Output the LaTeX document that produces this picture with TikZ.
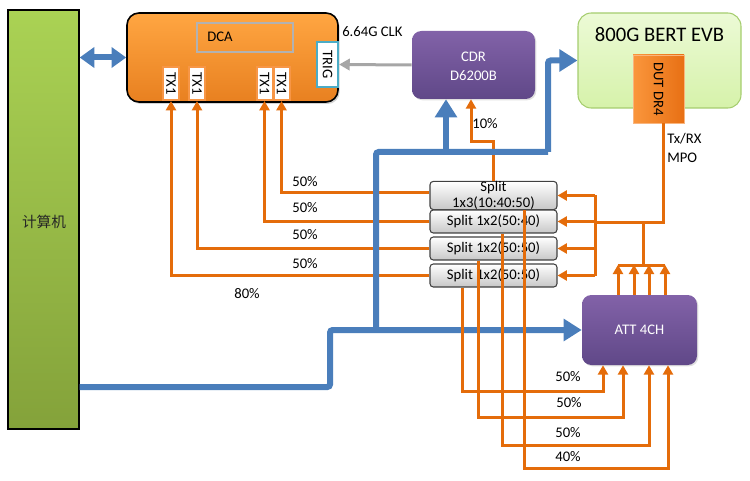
\documentclass[tikz,border=0pt]{standalone}
\usepackage{graphicx}
\usepackage{fontspec}
\setmainfont{Carlito}
\newfontfamily\cjk{Noto Sans CJK SC}
\usetikzlibrary{arrows.meta,fit,shadows,calc}
\definecolor{oline}{RGB}{228,108,10}
\definecolor{bline}{RGB}{74,126,187}
\definecolor{gline}{RGB}{166,166,166}
\definecolor{cgT}{RGB}{170,210,84}
\definecolor{cgB}{RGB}{132,162,58}
\definecolor{dcaT}{RGB}{255,166,66}
\definecolor{dcaB}{RGB}{232,128,32}
\definecolor{txor}{RGB}{247,150,70}
\definecolor{trigc}{RGB}{75,172,198}
\definecolor{puT}{RGB}{130,98,168}
\definecolor{puB}{RGB}{96,72,136}
\definecolor{beT}{RGB}{236,250,214}
\definecolor{beB}{RGB}{214,242,170}
\definecolor{beD}{RGB}{165,205,110}
\definecolor{duT}{RGB}{250,150,60}
\definecolor{duB}{RGB}{232,112,20}
\begin{document}
\begin{tikzpicture}[x=0.75pt,y=-0.75pt,
  font=\fontsize{11}{13}\selectfont,
  compbox/.style={draw=black, line width=1pt, top color=cgT, bottom color=cgB, inner sep=0pt,
     drop shadow={opacity=0.3, shadow xshift=1pt, shadow yshift=-1pt}},
  dcabox/.style={draw=black, line width=1.2pt, rounded corners=9pt, top color=dcaT, bottom color=dcaB, inner sep=0pt,
     drop shadow={opacity=0.35, shadow xshift=1.2pt, shadow yshift=-1.5pt}},
  inbox/.style={draw=gray!60, line width=0.8pt, inner sep=0pt},
  txbox/.style={draw=txor, line width=1.5pt, fill=white, minimum width=12pt, minimum height=24.75pt, inner sep=0pt},
  trigbox/.style={draw=trigc, line width=1.6pt, fill=white, minimum width=15.75pt, minimum height=33.75pt, inner sep=0pt},
  purplebox/.style={rounded corners=7pt, top color=puT, bottom color=puB, text=white, inner sep=0pt, align=center,
     drop shadow={opacity=0.25, shadow xshift=1pt, shadow yshift=-1pt}},
  bertbox/.style={draw=beD, line width=0.8pt, rounded corners=10pt, top color=beT, bottom color=beB, inner sep=0pt},
  dutbox/.style={draw=txor!70, line width=0.6pt, left color=duT, right color=duB, minimum width=38.25pt, minimum height=51pt, inner sep=0pt},
  splitbox/.style={draw=black!75, line width=0.8pt, rounded corners=2.5pt, top color=white, bottom color=black!22,
     minimum width=95.25pt, minimum height=17.25pt, inner sep=0pt, align=center},
  oln/.style={draw=oline, line width=2.25pt},
  oarrow/.style={draw=oline, line width=2.25pt, -{Triangle[length=7pt,width=7.5pt]}},
  bln/.style={draw=bline, line width=4.5pt, rounded corners=2pt},
  barrow/.style={draw=bline, line width=4.5pt, rounded corners=2pt, -{Triangle[length=13.5pt,width=16pt]}},
  bdouble/.style={draw=bline, line width=4.5pt, {Triangle[length=11pt,width=15pt]}-{Triangle[length=11pt,width=15pt]}},
  garrow/.style={draw=gline, line width=2.25pt, -{Triangle[length=8pt,width=8.5pt]}},
  pct/.style={inner sep=0pt, text=black}
]
\useasboundingbox (0,0) rectangle (750,481);

% ---------- boxes ----------
\node[compbox, fit={(8,10) (79,429)}] (comp) {};
\node[font=\cjk\fontsize{11}{13}\selectfont, text=black!85] (comptxt) at (44,222) {计算机};

\node[dcabox, fit={(127,13) (338,102)}] (dca) {};
\node[inbox, fit={(197,23) (293,52)}] (dcain) {};
\node[inner sep=0pt] (dcatxt) at (220,37) {DCA};

\node[txbox] (tx1) at (171,83.5) {\rotatebox[origin=c]{-90}{TX1}};
\node[txbox] (tx2) at (197,83.5) {\rotatebox[origin=c]{-90}{TX1}};
\node[txbox] (tx3) at (264.5,83.5) {\rotatebox[origin=c]{-90}{TX1}};
\node[txbox] (tx4) at (281.5,83.5) {\rotatebox[origin=c]{-90}{TX1}};
\node[trigbox] (trig) at (327.5,64.5) {\rotatebox[origin=c]{-90}{TRIG}};

\node[anchor=west, inner sep=0pt] (clk) at (342,32) {6.64G CLK};

\node[purplebox, fit={(412,31) (535,99)}] (cdr) {};
\node[text=white, align=center, inner sep=0pt, font=\fontsize{11}{14.25}\selectfont] (cdrtxt) at (473.5,66) {CDR\\D6200B};

\node[bertbox, fit={(578,13) (741,108)}] (bert) {};
\node[inner sep=0pt, font=\fontsize{15.5}{18}\selectfont] (berttxt) at (659.5,35) {800G BERT EVB};
\node[dutbox] (dut) at (658.5,89) {\rotatebox[origin=c]{-90}{DUT DR4}};
\node[anchor=west, align=left, inner sep=0pt, font=\fontsize{11}{14.25}\selectfont] (mpo) at (667,147.5) {Tx/RX\\MPO};

\node[splitbox, font=\fontsize{11}{12}\selectfont] (split1) at (493.5,195.5) {Split\\1x3(10:40:50)};
\node[splitbox] (split2) at (493.5,221.5) {Split 1x2(50:40)};
\node[splitbox] (split3) at (493.5,248.5) {Split 1x2(50:50)};
\node[splitbox] (split4) at (493.5,275.5) {Split 1x2(50:50)};

\node[purplebox, fit={(582,295) (697,365)}] (att) {};
\node[text=white, inner sep=0pt] (atttxt) at (639.5,330) {ATT 4CH};

% ---------- orange: splitters to DCA ----------
\draw[oarrow] ([yshift=1.9pt]split1.west) -| (tx4.south);
\draw[oarrow] (split2.west) -| (tx3.south);
\draw[oarrow] (split3.west) -| (tx2.south);
\draw[oarrow] (split4.west) -| (tx1.south);
\node[pct] (p1) at (305,182) {50\%};
\node[pct] (p2) at (305,208) {50\%};
\node[pct] (p3) at (305,235) {50\%};
\node[pct] (p4) at (305,264) {50\%};
\node[pct] (p80) at (247,294) {80\%};

% 10% to CDR
\coordinate (k10) at (471,142);
\draw[oarrow] (split1.north) |- (k10) -- (k10 |- cdr.south);
\node[pct] (p10) at (485,124) {10\%};

% ---------- orange: DUT / ATT to splitters ----------
\coordinate (busT) at (595,195.5);
\coordinate (busB) at (595,275.5);
\draw[oln] (busT) -- (busB);
\draw[oarrow] (busT) -- (split1.east);
\draw[oarrow] (busT |- split2.east) -- (split2.east);
\draw[oarrow] (busT |- split3.east) -- (split3.east);
\draw[oarrow] (busB) -- (split4.east);
\coordinate (jd) at (663,223);
\draw[oln] (jd |- dut.south) -- (jd) -- (busT |- jd);
\coordinate (ag) at (643,265);
\draw[oln] (ag) -- (ag |- jd);
\draw[oln] (618,265) -- (665,265);
\draw[oarrow] ($(att.north)+(-21.5,0)$) -- ($(att.north)+(-21.5,-30)$);
\draw[oarrow] ($(att.north)+(-5.5,0)$) -- ($(att.north)+(-5.5,-30)$);
\draw[oarrow] ($(att.north)+(9.5,0)$) -- ($(att.north)+(9.5,-30)$);
\draw[oarrow] ($(att.north)+(25.5,0)$) -- ($(att.north)+(25.5,-30)$);

% ---------- blue ----------
\draw[bdouble] (comp.east |- dca.west) -- (dca.west);
\coordinate (b1) at (330,387);
\coordinate (b2) at (376,330);
\coordinate (b3) at (376,152);
\coordinate (b4) at (548,152);
\coordinate (b5) at (446,152);
\draw[barrow] (comp.east |- b1) -- (b1) -- (b1 |- b2) -- (att.west);
\draw[bln] (b2) -- (b3) -- (b4);
\draw[barrow] (b4) -- (b4 |- bert.west) -- (bert.west);
\draw[barrow, rounded corners=0pt] (b5) -- (b5 |- cdr.south);

% ---------- orange: splitters to ATT ----------
\draw[oarrow] ($(split4.south)+(-31.5,0)$) |- (603,391) -- ($(att.south)+(-36.5,0)$);
\draw[oarrow] ($(split3.south)+(-15.5,0)$) |- (623,417) -- ($(att.south)+(-16.5,0)$);
\draw[oarrow] ($(split2.south)+(8.5,0)$) |- (649,445) -- ($(att.south)+(9.5,0)$);
\draw[oarrow] ($(split1.south)+(30.5,0)$) |- (668,468) -- ($(att.south)+(28.5,0)$);
\node[pct] (q1) at (568,377) {50\%};
\node[pct] (q2) at (569,403) {50\%};
\node[pct] (q3) at (568,433) {50\%};
\node[pct] (q4) at (568,457) {40\%};

% ---------- gray clock ----------
\draw[garrow] (cdr.west) -- (trig.east);
\end{tikzpicture}
\end{document}
